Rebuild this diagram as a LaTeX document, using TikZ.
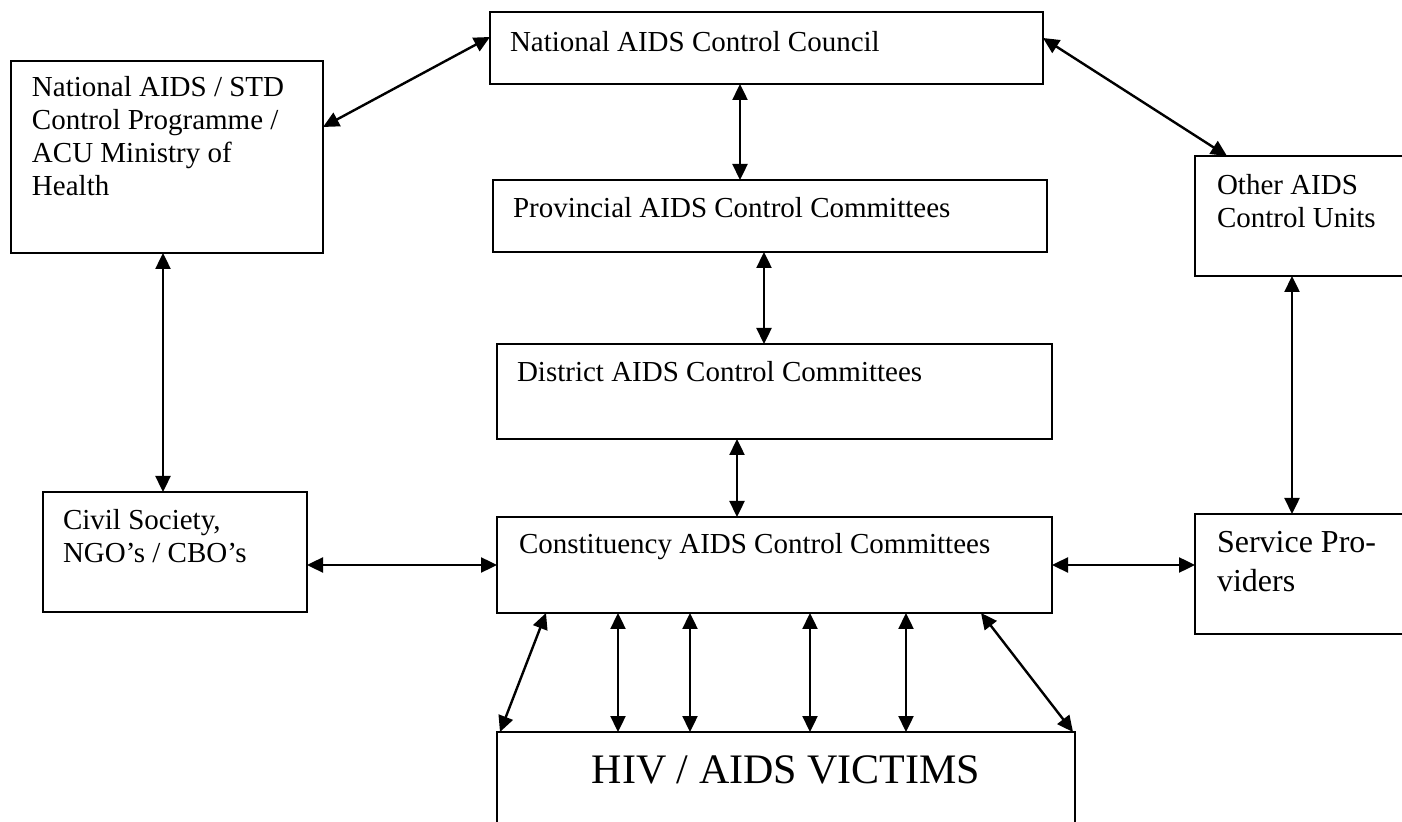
\documentclass[tikz,border=0pt]{standalone}
\usepackage{fontspec}
\setmainfont{Liberation Serif}
\usetikzlibrary{arrows.meta,calc}
\begin{document}
\begin{tikzpicture}[x=0.5pt,y=-0.5pt,
  box/.style={draw, line width=0.7pt, inner sep=0pt, outer sep=0pt},
  txt/.style={inner sep=0pt, outer sep=0pt, anchor=base west, align=left, font=\fontsize{14.5pt}{16.5pt}\selectfont},
  bigtxt/.style={inner sep=0pt, outer sep=0pt, anchor=base west, align=left, font=\fontsize{16pt}{19.5pt}\selectfont},
  arr/.style={{Triangle[length=8pt,width=7.5pt]}-{Triangle[length=8pt,width=7.5pt]}, line width=1.2pt},
]
\fill[white] (0,0) rectangle (1402,822);
\useasboundingbox (0,0) rectangle (1402,822);

% boxes
\node[box, minimum width=156pt, minimum height=96pt] (moh) at (167,157) {};
\node[box, minimum width=276.5pt, minimum height=36pt] (nac) at (766.5,48) {};
\node[box, minimum width=277pt, minimum height=36pt] (prov) at (770,216) {};
\node[box, minimum width=277.5pt, minimum height=47.5pt] (dist) at (774.5,391.5) {};
\node[box, minimum width=277.5pt, minimum height=48pt] (con) at (774.5,565) {};
\node[box, minimum width=132pt, minimum height=60pt] (civ) at (175,552) {};
\node[box, minimum width=112.5pt, minimum height=60pt] (oth) at (1307.5,216) {};
\node[box, minimum width=112.5pt, minimum height=60pt] (svc) at (1307.5,574) {};
\node[box, minimum width=289pt, minimum height=59pt] (hiv) at (786,791) {};

% texts (multi-line texts are anchored at the baseline of their last line)
\node[txt] (moht) at ([xshift=10.5pt,yshift=-67.5pt]moh.north west) {National AIDS / STD\\Control Programme /\\ACU Ministry of\\Health};
\node[txt] (nact) at ([xshift=10pt,yshift=-20pt]nac.north west) {National AIDS Control Council};
\node[txt] (provt) at ([xshift=10pt,yshift=-19pt]prov.north west) {Provincial AIDS Control Committees};
\node[txt] (distt) at ([xshift=10pt,yshift=-19pt]dist.north west) {District AIDS Control Committees};
\node[txt] (cont) at ([xshift=11pt,yshift=-18.5pt]con.north west) {Constituency AIDS Control Committees};
\node[txt] (civt) at ([xshift=10pt,yshift=-35.5pt]civ.north west) {Civil Society,\\NGO’s / CBO’s};
\node[txt] (otht) at ([xshift=11pt,yshift=-36pt]oth.north west) {Other AIDS\\Control Units};
\node[bigtxt] (svct) at ([xshift=11pt,yshift=-39pt]svc.north west) {Service Pro-\\viders};
\node[inner sep=0pt, anchor=base, font=\fontsize{21pt}{25pt}\selectfont] (hivt) at ([yshift=-25.5pt]hiv.north) {HIV / AIDS VICTIMS};

% connectors
\draw[arr] ([yshift=15pt]moh.east) -- ([yshift=5.5pt]nac.west);
\draw[arr] ([xshift=-13.25pt]nac.south) -- ([xshift=-15pt]prov.north);
\draw[arr] ([xshift=-3pt]prov.south) -- ([xshift=-5.25pt]dist.north);
\draw[arr] ([xshift=-18.75pt]dist.south) -- ([xshift=-18.75pt]con.north);
\draw[arr] ([yshift=5pt]nac.east) -- ([xshift=16pt]oth.north west);
\draw[arr] ([xshift=-2pt]moh.south) -- ([xshift=-6pt]civ.north);
\draw[arr] ([xshift=-7.75pt]oth.south) -- ([xshift=-7.75pt]svc.north);
\draw[arr] (civ.east |- con.west) -- (con.west);
\draw[arr] (con.east) -- (con.east -| svc.west);

\draw[arr] ([xshift=24.5pt]con.south west) -- ([xshift=1.5pt]hiv.north west);
\draw[arr] ([xshift=60.5pt]con.south west) -- ([xshift=60.5pt]hiv.north west);
\draw[arr] ([xshift=96.5pt]con.south west) -- ([xshift=96.5pt]hiv.north west);
\draw[arr] ([xshift=156.5pt]con.south west) -- ([xshift=156.5pt]hiv.north west);
\draw[arr] ([xshift=204.5pt]con.south west) -- ([xshift=204.5pt]hiv.north west);
\draw[arr] ([xshift=242pt]con.south west) -- ([xshift=-1pt]hiv.north east);
\end{tikzpicture}
\end{document}
